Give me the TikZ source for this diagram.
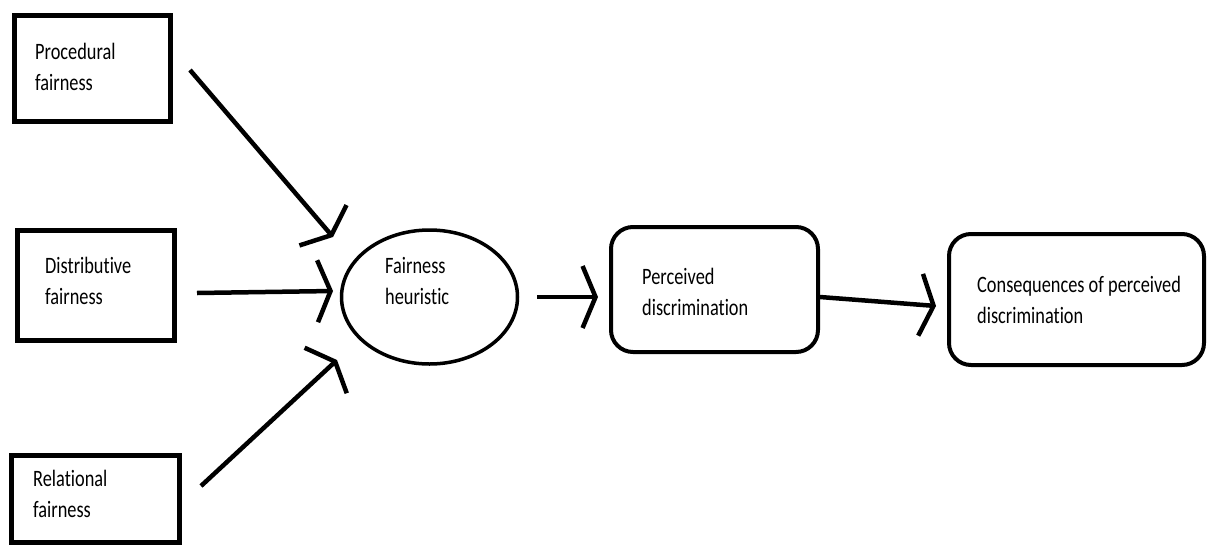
\documentclass[tikz,border=0pt]{standalone}
\usepackage{fontspec}
\setmainfont{Carlito}[FakeStretch=0.78, Ligatures=NoCommon]
\usetikzlibrary{arrows.meta,shapes.geometric}

\begin{document}
\begin{tikzpicture}[x=1pt,y=1pt,yscale=-1,xscale=1,
  box/.style={draw, line width=5.5pt, inner sep=0pt},
  rbox/.style={draw, line width=4pt, rounded corners=22pt, inner sep=0pt},
  oval/.style={draw, ellipse, line width=3.5pt, inner sep=0pt},
  flow/.style={line width=4.5pt, -{Straight Barb[length=13pt,width=62pt]}},
  txt/.style={anchor=west, inner sep=0pt, align=left, font=\fontsize{23.5}{31}\selectfont}]
\useasboundingbox (0,0) rectangle (1208,547);

%Boxes
\node (proc) [box, minimum width=156, minimum height=106] at (92.5,68.5) {};
\node (dist) [box, minimum width=157, minimum height=110] at (96,285.5) {};
\node (rel) [box, minimum width=168, minimum height=87] at (95.5,499) {};
\node (heur) [oval, minimum width=176, minimum height=134] at (429.5,297) {};
\node (perc) [rbox, minimum width=207, minimum height=125] at (714.5,289.5) {};
\node (cons) [rbox, minimum width=255, minimum height=131] at (1076.5,299.5) {};

% Text Node
\node (procTxt) [txt] at (35,67) {Procedural\\fairness};
\node (distTxt) [txt] at (45,281) {Distributive\\fairness};
\node (relTxt) [txt] at (33,494) {Relational\\fairness};
\node (heurTxt) [txt] at (385,281) {Fairness\\heuristic};
\node (percTxt) [txt] at (642,292) {Perceived\\discrimination};
\node (consTxt) [txt] at (977,300) {Consequences of perceived\\discrimination};

%Arrow ends
\coordinate (procOut) at (190,70);
\coordinate (procIn) at (333,237);
\coordinate (distOut) at (197,293);
\coordinate (distIn) at (333,291);
\coordinate (relOut) at (201,486);
\coordinate (relIn) at (337,360);
\coordinate (heurOut) at (537,297);
\coordinate (percIn) at (598,297);
\coordinate (percOut) at (820,297);
\coordinate (consIn) at (936,306);

%Straight Lines
\draw [flow] (procOut) -- (procIn);
\draw [flow] (distOut) -- (distIn);
\draw [flow] (relOut) -- (relIn);
\draw [flow] (heurOut) -- (percIn);
\draw [flow] (percOut) -- (consIn);

\end{tikzpicture}
\end{document}
